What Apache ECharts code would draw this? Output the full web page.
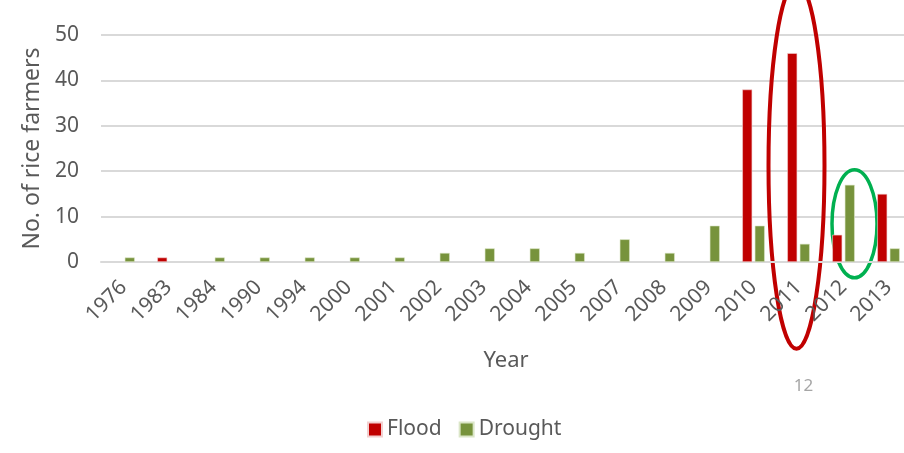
<!DOCTYPE html>
<html>
<head>
<meta charset="utf-8">
<script src="https://cdn.jsdelivr.net/npm/echarts@6/dist/echarts.min.js"></script>
<style>
  html, body { margin: 0; padding: 0; background: #fff; overflow: hidden; }
  #chart { width: 912px; height: 453px; }
</style>
</head>
<body>
<div id="chart"></div>
<script>
// Rice farmers affected by flood and drought, by year
const years = ['1976', '1983', '1984', '1990', '1994', '2000', '2001', '2002', '2003',
  '2004', '2005', '2007', '2008', '2009', '2010', '2011', '2012', '2013'];
const flood = [0, 1, 0, 0, 0, 0, 0, 0, 0, 0, 0, 0, 0, 0, 38, 46, 6, 15];
const drought = [1, 0, 1, 1, 1, 1, 1, 2, 3, 3, 2, 5, 2, 8, 8, 4, 17, 3];
const yTicks = [0, 10, 20, 30, 40, 50];

const FONT = '"Noto Sans", "Open Sans", sans-serif';
const TEXT = '#595959';

const chart = echarts.init(document.getElementById('chart'));

function blankZero(arr) {
  return arr.map(v => (v === 0 ? null : v));
}

chart.setOption({
  animation: false,
  textStyle: { fontFamily: FONT },
  grid: { left: 101, top: 35, width: 810, height: 227, containLabel: false },
  legend: {
    top: 414,
    left: 362,
    itemWidth: 14,
    itemHeight: 14,
    itemGap: 17,
    icon: 'rect',
    textStyle: { fontFamily: FONT, fontSize: 21, color: TEXT },
    data: ['Flood', 'Drought']
  },
  xAxis: {
    type: 'category',
    data: years,
    name: 'Year',
    nameLocation: 'middle',
    nameGap: 88,
    nameTextStyle: { fontFamily: FONT, fontSize: 22, color: TEXT },
    axisLine: { lineStyle: { color: '#d9d9d9', width: 2 } },
    axisTick: { show: false },
    axisLabel: {
      rotate: 45,
      margin: 22,
      fontSize: 21,
      color: TEXT,
      fontFamily: FONT
    }
  },
  yAxis: {
    type: 'value',
    min: yTicks[0],
    max: yTicks[yTicks.length - 1],
    interval: 10,
    name: 'No. of rice farmers',
    nameLocation: 'middle',
    nameGap: 56,
    nameTextStyle: { fontFamily: FONT, fontSize: 23, color: TEXT },
    axisLine: { show: false },
    axisTick: { show: false },
    axisLabel: { fontSize: 21, color: TEXT, margin: 22, fontFamily: FONT },
    splitLine: { lineStyle: { color: '#d9d9d9', width: 2 } }
  },
  series: [
    {
      name: 'Flood',
      type: 'bar',
      data: blankZero(flood),
      barWidth: 10,
      barGap: '25%',
      itemStyle: { color: '#C00000', borderColor: '#f2d0d0', borderWidth: 0.6 }
    },
    {
      name: 'Drought',
      type: 'bar',
      data: blankZero(drought),
      barWidth: 10,
      itemStyle: { color: '#77933C', borderColor: '#dbe6c8', borderWidth: 0.6 }
    }
  ]
});

// Highlight rings around the 2011 flood peak and the 2012 drought peak,
// placed from the axis scales after layout.
function drawRings() {
  const base2011 = chart.convertToPixel({ gridIndex: 0 }, ['2011', 0]);
  const base2012 = chart.convertToPixel({ gridIndex: 0 }, ['2012', 0]);
  const unit = base2011[1] - chart.convertToPixel({ gridIndex: 0 }, ['2011', 10])[1];
  chart.setOption({
    graphic: [
      {
        type: 'ellipse',
        shape: { cx: base2011[0] - 2, cy: base2011[1] - unit * 2.12, rx: 28, ry: 183 },
        style: { fill: null, stroke: '#C00000', lineWidth: 4 },
        silent: true
      },
      {
        type: 'ellipse',
        shape: { cx: base2012[0] + 11, cy: base2012[1] - unit * 0.84, rx: 22.5, ry: 54 },
        style: { fill: null, stroke: '#00B050', lineWidth: 3.5 },
        silent: true
      },
      {
        type: 'text',
        style: {
          text: '12',
          x: base2011[0] + 5,
          y: 386,
          fill: '#A6A6A6',
          font: '17px ' + FONT,
          align: 'center',
          verticalAlign: 'middle'
        },
        silent: true
      }
    ]
  });
}
drawRings();
</script>
</body>
</html>
